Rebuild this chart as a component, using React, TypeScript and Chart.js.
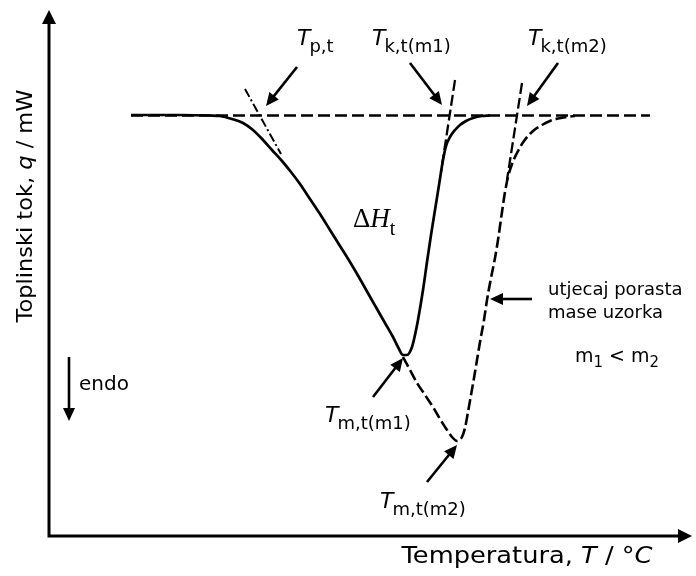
import React, { useEffect, useRef } from "react";
import { Chart, registerables } from "chart.js";

Chart.register(...registerables);

// Arbitrary units: x = temperature (no scale shown), y = heat flow (no scale shown)
const X_MAX = 643;
const Y_MAX = 526;

const baseX = [82, 601];
const baseY = [420.5, 420.5];

// sample m1 (solid)
const m1X = [82, 131, 161, 171, 183, 194, 204, 214, 223, 233, 242, 251, 261, 271, 281, 291, 301, 311, 320, 328, 336, 344, 349, 354, 358, 363, 366, 369, 374, 378, 382, 386, 390, 394, 397, 401, 406, 411, 417, 424, 433, 441];
const m1Y = [421, 421, 420.5, 420, 417, 413, 406, 396, 386, 375, 364, 352, 337, 322, 306, 290, 274, 257, 241, 227, 213, 199, 189, 181, 181, 189, 201, 216, 246, 274, 301, 326, 351, 376, 390, 399, 406, 411, 415, 418, 420, 420.5];

// sample m2 (dashed), branches from the m1 minimum
const m2X = [354, 361, 368, 376, 384, 391, 398, 403, 408, 413, 416, 419, 422, 425, 428, 431, 435, 438, 442, 446, 449, 453, 456, 459, 463, 468, 475, 484, 493, 501, 509, 518, 526];
const m2Y = [179, 166, 153, 141, 129, 117, 106, 99, 95, 99, 108, 124, 141, 158, 176, 194, 216, 236, 258, 278, 296, 324, 344, 359, 372, 383, 395, 405, 411, 415, 417.5, 419, 420];

// construction tangents
const tanPX = [196, 232];
const tanPY = [447, 382];
const tanK1X = [406, 392];
const tanK1Y = [456, 364];
const tanK2X = [473, 458];
const tanK2Y = [453, 356];

// arrows [x1, y1, x2, y2] tail -> head
const arrowList = [
  [248, 469, 217, 430],
  [361, 473, 393, 431],
  [509, 473, 478, 430],
  [483, 237, 441, 237],
  [324, 139, 354, 178],
  [378, 54, 408, 91],
  [20, 179, 20, 115],
];

// rich labels: position (left, baseline) in data units
const labelList = [
  { x: 248, y: 491, main: "T", sub: "p,t" },
  { x: 323, y: 491, main: "T", sub: "k,t(m1)" },
  { x: 479, y: 491, main: "T", sub: "k,t(m2)" },
  { x: 276, y: 114, main: "T", sub: "m,t(m1)" },
  { x: 331, y: 28, main: "T", sub: "m,t(m2)" },
];

const plainText = [
  { x: 499, y: 241, t: "utjecaj porasta" },
  { x: 499, y: 218, t: "mase uzorka" },
  { x: 30, y: 146, t: "endo" },
];

const xTitle = ["Temperatura, ", "T", " / ", "\u00B0C"];
const yTitle = ["Toplinski tok, ", "q", " / mW"];

const SANS = "'DejaVu Sans', Verdana, sans-serif";

function arrowHead(ctx: CanvasRenderingContext2D, x1: number, y1: number, x2: number, y2: number, len: number, half: number) {
  const a = Math.atan2(y2 - y1, x2 - x1);
  ctx.beginPath();
  ctx.moveTo(x2, y2);
  ctx.lineTo(x2 - len * Math.cos(a) + half * Math.sin(a), y2 - len * Math.sin(a) - half * Math.cos(a));
  ctx.lineTo(x2 - len * Math.cos(a) - half * Math.sin(a), y2 - len * Math.sin(a) + half * Math.cos(a));
  ctx.closePath();
  ctx.fill();
}

function drawArrow(ctx: CanvasRenderingContext2D, x1: number, y1: number, x2: number, y2: number, w: number, len: number, half: number) {
  const a = Math.atan2(y2 - y1, x2 - x1);
  ctx.lineWidth = w;
  ctx.setLineDash([]);
  ctx.beginPath();
  ctx.moveTo(x1, y1);
  ctx.lineTo(x2 - (len - 2) * Math.cos(a), y2 - (len - 2) * Math.sin(a));
  ctx.stroke();
  arrowHead(ctx, x1, y1, x2, y2, len, half);
}

// draws parts (odd indices italic) centred at 0,0 with given target width
function drawTitle(ctx: CanvasRenderingContext2D, parts: string[], size: number, targetW: number) {
  const fonts = parts.map((_, i) => (i % 2 === 1 ? `italic ${size}px ${SANS}` : `${size}px ${SANS}`));
  let total = 0;
  parts.forEach((t, i) => { ctx.font = fonts[i]; total += ctx.measureText(t).width; });
  const sx = targetW / total;
  ctx.save();
  ctx.scale(sx, 1);
  let x = -total / 2;
  ctx.textAlign = "left";
  ctx.textBaseline = "alphabetic";
  parts.forEach((t, i) => { ctx.font = fonts[i]; ctx.fillText(t, x, 0); x += ctx.measureText(t).width; });
  ctx.restore();
}

const overlay = {
  id: "overlay",
  afterDatasetsDraw(chart: any) {
    const ctx: CanvasRenderingContext2D = chart.ctx;
    const xs = chart.scales.x;
    const ys = chart.scales.y;
    const px = (v: number) => xs.getPixelForValue(v);
    const py = (v: number) => ys.getPixelForValue(v);
    ctx.save();
    ctx.strokeStyle = "#000";
    ctx.fillStyle = "#000";
    ctx.lineCap = "butt";

    // axes
    const ox = px(0), oy = py(0);
    ctx.lineWidth = 3;
    ctx.beginPath();
    ctx.moveTo(ox, py(Y_MAX) + 12);
    ctx.lineTo(ox, oy);
    ctx.lineTo(px(X_MAX) - 12, oy);
    ctx.stroke();
    arrowHead(ctx, ox, oy, ox, py(Y_MAX), 14, 7);
    arrowHead(ctx, ox, oy, px(X_MAX), oy, 14, 7);

    // arrows
    for (const [a, b, c, d] of arrowList) {
      drawArrow(ctx, px(a), py(b), px(c), py(d), 2.6, 13, 6);
    }

    // rich labels
    ctx.textAlign = "left";
    ctx.textBaseline = "alphabetic";
    for (const l of labelList) {
      const x = px(l.x), y = py(l.y);
      ctx.font = `italic 22px ${SANS}`;
      ctx.fillText(l.main, x, y);
      const w = ctx.measureText(l.main).width;
      ctx.font = `18px ${SANS}`;
      ctx.fillText(l.sub, x + w - 1, y + 7);
    }

    // plain labels
    for (const p of plainText) {
      ctx.font = p.t === "endo" ? `20px ${SANS}` : `18px ${SANS}`;
      ctx.fillText(p.t, px(p.x), py(p.y));
    }

    // m1 < m2
    {
      let x = px(526);
      const y = py(174);
      const parts: [string, string, number][] = [
        ["m", `19px ${SANS}`, 0],
        ["1", `15px ${SANS}`, 5],
        [" < ", `19px ${SANS}`, 0],
        ["m", `19px ${SANS}`, 0],
        ["2", `15px ${SANS}`, 5],
      ];
      for (const [t, f, dy] of parts) {
        ctx.font = f;
        ctx.fillText(t, x, y + dy);
        x += ctx.measureText(t).width;
      }
    }

    // Delta H_t
    {
      let x = px(304);
      const y = py(309);
      ctx.font = `27px 'Liberation Serif', 'Times New Roman', serif`;
      ctx.fillText("\u0394", x, y);
      x += ctx.measureText("\u0394").width;
      ctx.font = `italic 27px 'Liberation Serif', 'Times New Roman', serif`;
      ctx.fillText("H", x, y);
      x += ctx.measureText("H").width;
      ctx.font = `20px 'Liberation Serif', 'Times New Roman', serif`;
      ctx.fillText("t", x, y + 8);
    }

    // axis titles
    ctx.save();
    ctx.translate(527, 563);
    drawTitle(ctx, xTitle, 23, 251);
    ctx.restore();

    ctx.save();
    ctx.translate(32, 206);
    ctx.rotate(-Math.PI / 2);
    drawTitle(ctx, yTitle, 22, 233);
    ctx.restore();

    ctx.restore();
  },
};

function pts(xs: number[], ys: number[]) {
  return xs.map((x, i) => ({ x, y: ys[i] }));
}

export default function App() {
  const ref = useRef<HTMLCanvasElement | null>(null);
  useEffect(() => {
    document.body.style.margin = "0";
    const canvas = ref.current!;
    const line = (data: any, dash: number[], width: number, smooth = false) => ({
      data,
      showLine: true,
      borderColor: "#000",
      borderWidth: width,
      borderDash: dash,
      pointRadius: 0,
      fill: false,
      cubicInterpolationMode: smooth ? "monotone" : "default",
      tension: 0,
      borderCapStyle: "butt",
      borderJoinStyle: "round",
    });
    const chart = new Chart(canvas, {
      type: "scatter",
      data: {
        datasets: [
          line(pts(baseX, baseY), [12, 5], 2.5),
          line(pts(tanPX, tanPY), [9, 3, 2, 3], 2),
          line(pts(tanK1X, tanK1Y), [11, 4], 2.3),
          line(pts(tanK2X, tanK2Y), [11, 4], 2.3),
          line(pts(m2X, m2Y), [11, 4], 2.6, true),
          line(pts(m1X, m1Y), [], 2.7, true),
        ] as any,
      },
      options: {
        animation: false,
        responsive: false,
        devicePixelRatio: 1,
        layout: { padding: { left: 49, top: 10, right: 4, bottom: 40 } },
        plugins: { legend: { display: false }, tooltip: { enabled: false } },
        scales: {
          x: { type: "linear", min: 0, max: X_MAX, display: false },
          y: { type: "linear", min: 0, max: Y_MAX, display: false },
        },
      },
      plugins: [overlay],
    } as any);
    return () => chart.destroy();
  }, []);
  return <canvas ref={ref} width={696} height={576} style={{ display: "block" }} />;
}
